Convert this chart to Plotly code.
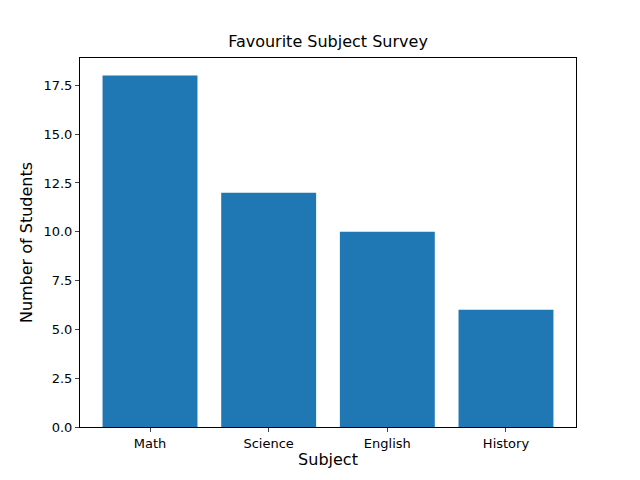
import plotly.graph_objects as go

subjects = ["Math", "Science", "English", "History"]
students = [18, 12, 10, 6]
yticks = [0, 2.5, 5, 7.5, 10, 12.5, 15, 17.5]

fig = go.Figure(go.Bar(x=list(range(len(subjects))), y=students, width=0.8,
                       marker=dict(color="#1f77b4", line=dict(width=0))))
fig.update_layout(
    width=640, height=480, plot_bgcolor="white", paper_bgcolor="white",
    margin=dict(l=72, r=72, t=50, b=61),
    font=dict(family="DejaVu Sans", size=13, color="black"),
    title=dict(text="Favourite Subject Survey", x=0.5, xanchor="center", y=1-39/480, yanchor="bottom",
               font=dict(size=16)),
    showlegend=False,
)
fig.update_xaxes(range=[-0.59, 3.59], tickvals=list(range(len(subjects))), ticktext=subjects,
                 showline=True, linecolor="black", mirror=True, ticks="outside", ticklen=4,
                 showgrid=False, zeroline=False, title=dict(text="Subject", standoff=4),
                 tickfont=dict(size=13))
fig.update_yaxes(range=[0, 18.9], tickvals=yticks, ticktext=[f"{v:.1f}" for v in yticks],
                 showline=True, linecolor="black", mirror=True, ticks="outside", ticklen=4,
                 showgrid=False, zeroline=False, title=dict(text="Number of Students", standoff=6),
                 tickfont=dict(size=13))
fig.write_html("out.html")
